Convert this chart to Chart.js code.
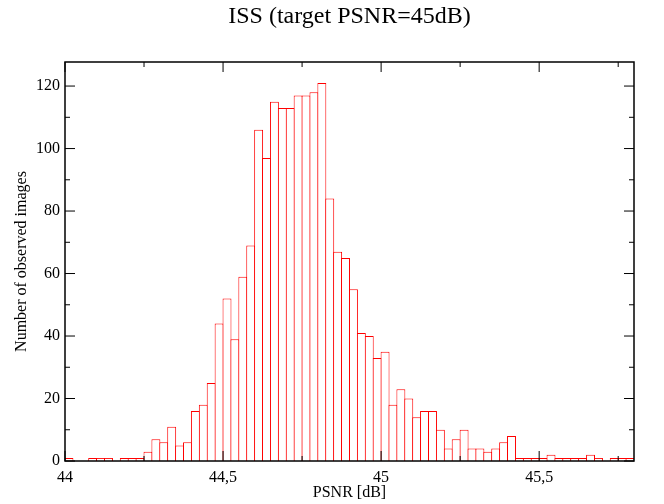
<!DOCTYPE html>
<html>
<head>
<meta charset="utf-8">
<script src="https://cdn.jsdelivr.net/npm/chart.js@4"></script>
<style>
  html, body { margin: 0; padding: 0; background: #fff; }
  #wrap { width: 664px; height: 504px; }
</style>
</head>
<body>
<div id="wrap"><canvas id="hist"></canvas></div>
<script>
// Histogram bins: 44.0 -> 45.8, width 0.025
const binStart = 44;
const binWidth = 0.025;
const counts = [
  1, 0, 0, 1, 1, 1, 0, 1, 1, 1,
  3, 7, 6, 11, 5, 6, 16, 18, 25, 44,
  52, 39, 59, 69, 106, 97, 115, 113, 113, 117,
  117, 118, 121, 84, 67, 65, 55, 41, 40, 33,
  35, 18, 23, 20, 14, 16, 16, 10, 4, 7,
  10, 4, 4, 3, 4, 6, 8, 1, 1, 1,
  1, 2, 1, 1, 1, 1, 2, 1, 0, 1,
  1, 1
];
const binCenters = counts.map((c, i) => +(binStart + binWidth * (i + 0.5)).toFixed(4));

const xTicks = [44, 44.5, 45, 45.5];
const xMinorTicks = [44.25, 44.75, 45.25, 45.75];
const yTicks = [0, 20, 40, 60, 80, 100, 120];
const yMinorTicks = [10, 30, 50, 70, 90, 110];

const serif = "'Liberation Serif', 'DejaVu Serif', serif";

// cadre + graduations vers l'intérieur, titre
const framePlugin = {
  id: 'frame',
  afterDraw(chart) {
    const ctx = chart.ctx;
    const a = chart.chartArea;
    const xs = chart.scales.x, ys = chart.scales.y;
    ctx.save();
    ctx.strokeStyle = '#000';
    ctx.lineWidth = 1;
    ctx.beginPath();
    function vtick(v, len) {
      const px = xs.getPixelForValue(v);
      ctx.moveTo(px, a.bottom); ctx.lineTo(px, a.bottom - len);
      ctx.moveTo(px, a.top); ctx.lineTo(px, a.top + len);
    }
    function htick(v, len) {
      const py = ys.getPixelForValue(v);
      ctx.moveTo(a.left, py); ctx.lineTo(a.left + len, py);
      ctx.moveTo(a.right, py); ctx.lineTo(a.right - len, py);
    }
    xTicks.forEach(v => vtick(v, 10));
    xMinorTicks.forEach(v => vtick(v, 5));
    yTicks.forEach(v => htick(v, 10));
    yMinorTicks.forEach(v => htick(v, 5));
    ctx.stroke();
    ctx.lineWidth = 1.5;
    ctx.strokeRect(a.left, a.top, a.right - a.left, a.bottom - a.top);

    ctx.fillStyle = '#000';
    ctx.font = '24px ' + serif;
    ctx.textAlign = 'center';
    ctx.textBaseline = 'alphabetic';
    ctx.fillText('ISS (target PSNR=45dB)', (a.left + a.right) / 2, 23);
    ctx.restore();
  }
};

const ctx = document.getElementById('hist').getContext('2d');
new Chart(ctx, {
  type: 'bar',
  data: {
    datasets: [{
      data: binCenters.map((x, i) => ({ x: x, y: counts[i] })),
      backgroundColor: '#ffffff',
      borderColor: '#ff0000',
      borderWidth: { top: 1, right: 1, left: 1, bottom: 0 },
      borderSkipped: false,
      // bars widened by ~1px so neighbouring outlines overlap into one line
      barPercentage: 1.13,
      categoryPercentage: 1
    }]
  },
  options: {
    responsive: true,
    maintainAspectRatio: false,
    animation: false,
    layout: { padding: { top: 62, right: 30, left: 0, bottom: 0 } },
    plugins: {
      legend: { display: false },
      title: { display: false },
      tooltip: { enabled: false }
    },
    scales: {
      x: {
        type: 'linear',
        min: 44,
        max: 45.8,
        offset: false,
        grid: { display: false, drawTicks: false, offset: false },
        border: { display: false },
        afterBuildTicks: s => { s.ticks = xTicks.map(v => ({ value: v })); },
        afterFit: s => { s.height = 43; },
        ticks: {
          padding: 7,
          color: '#000',
          font: { family: serif, size: 16 },
          maxRotation: 0,
          callback: v => String(Math.round(v * 10) / 10).replace('.', ',')
        },
        title: {
          display: true,
          text: 'PSNR [dB]',
          color: '#000',
          font: { family: serif, size: 16 },
          padding: { top: 0, bottom: 2 }
        }
      },
      y: {
        min: 0,
        max: 127.7,
        grid: { display: false, drawTicks: false },
        border: { display: false },
        afterBuildTicks: s => { s.ticks = yTicks.map(v => ({ value: v })); },
        afterFit: s => { s.width = 65; },
        ticks: {
          padding: 5,
          color: '#000',
          font: { family: serif, size: 16 }
        },
        title: {
          display: true,
          text: 'Number of observed images',
          color: '#000',
          font: { family: serif, size: 16 },
          padding: { top: 12, bottom: 0 }
        }
      }
    }
  },
  plugins: [framePlugin]
});
</script>
</body>
</html>
